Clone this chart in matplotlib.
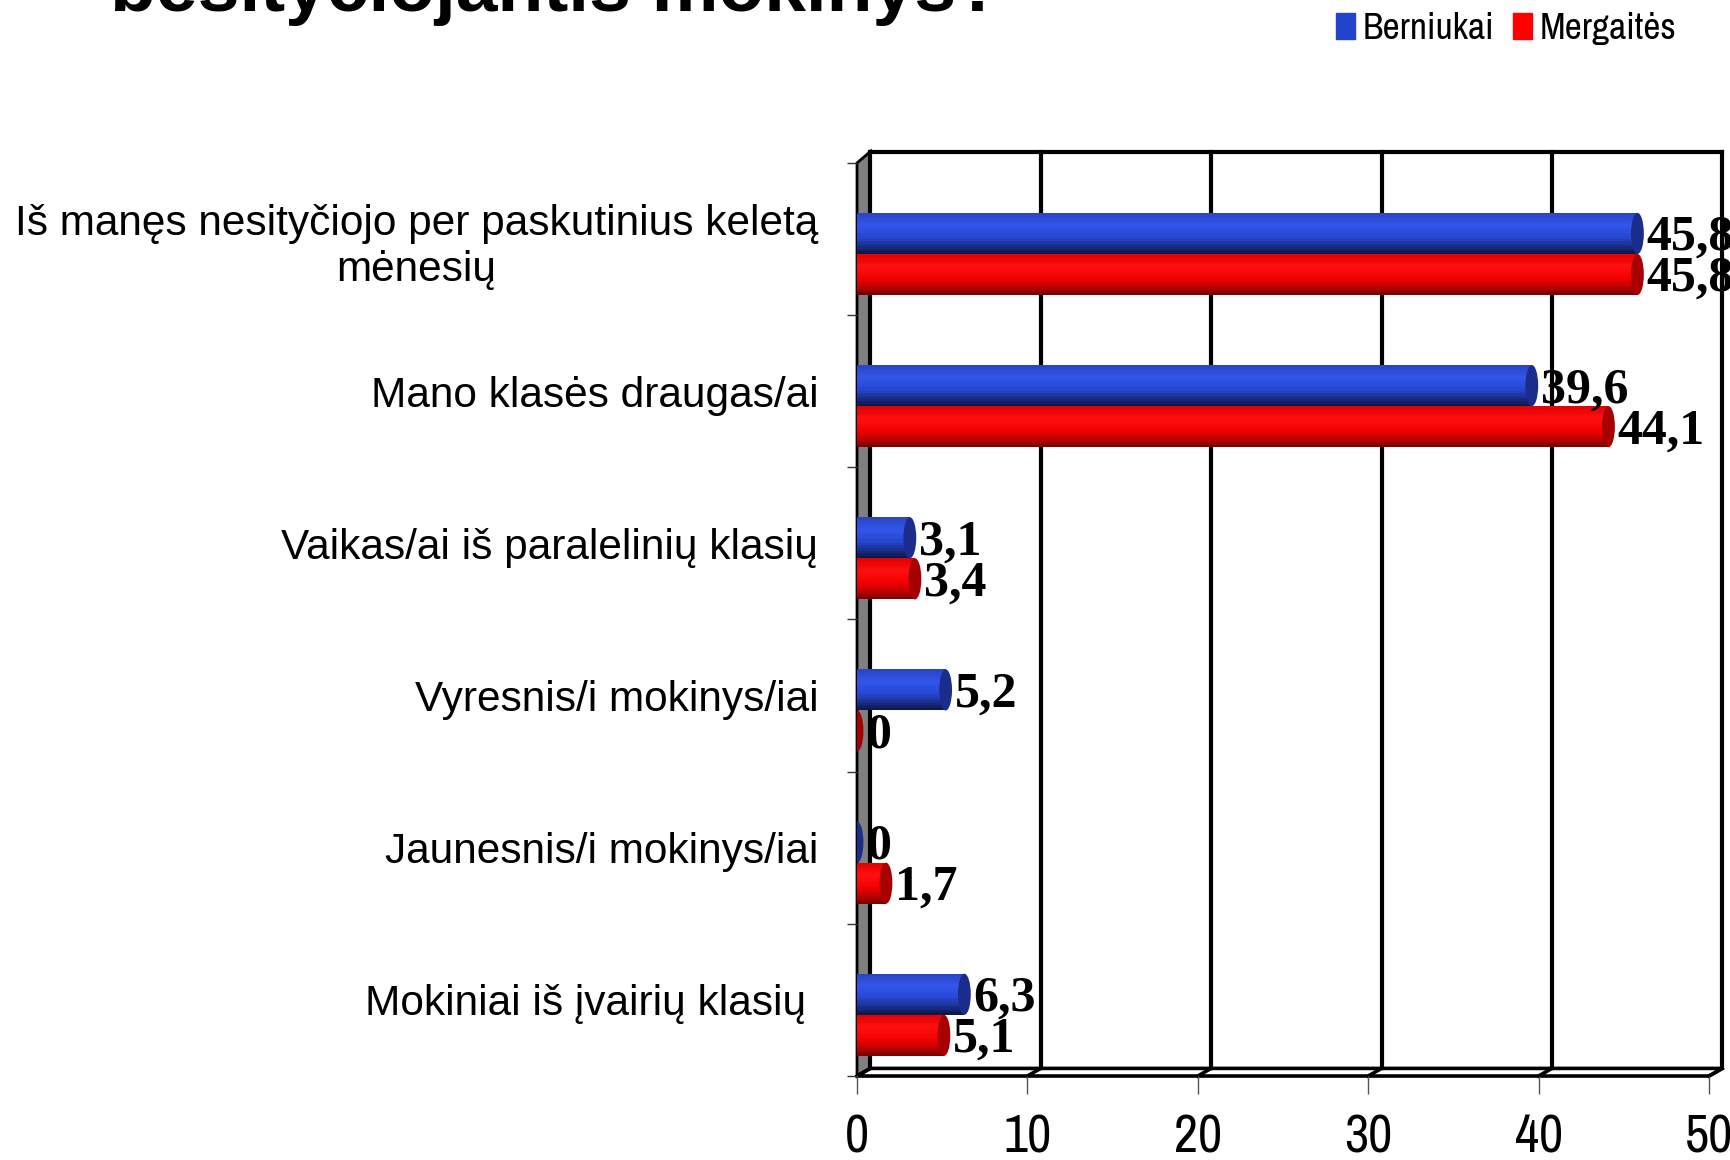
import numpy as np
import matplotlib
matplotlib.use("Agg")
import matplotlib.pyplot as plt
from matplotlib import font_manager
from matplotlib.patches import Ellipse, Rectangle, Polygon
from matplotlib.colors import LinearSegmentedColormap

# duomenys
kategorijos = ["Iš manęs nesityčiojo per paskutinius keletą\nmėnesių",
               "Mano klasės draugas/ai",
               "Vaikas/ai iš paralelinių klasių",
               "Vyresnis/i mokinys/iai",
               "Jaunesnis/i mokinys/iai",
               "Mokiniai iš įvairių klasių "]
berniukai = [45.8, 39.6, 3.1, 5.2, 0, 6.3]
mergaites = [45.8, 44.1, 3.4, 0, 1.7, 5.1]
serijos = ["Berniukai", "Mergaitės"]
x_ticks = [0, 10, 20, 30, 40, 50]

# sriftai - siauras, jei yra
vardai = {f.name for f in font_manager.fontManager.ttflist}
narrow = "Liberation Sans"
for kand in ["Liberation Sans Narrow", "Arial Narrow", "Archivo Narrow", "PT Sans Narrow",
             "Roboto Condensed", "Open Sans Condensed"]:
    if kand in vardai:
        narrow = kand
        break

# cilindru spalvos (is virsaus i apacia)
melyna = LinearSegmentedColormap.from_list("m", [(0, "#2a44c0"), (0.3, "#3156ea"), (0.6, "#2546d0"),
                                                 (0.85, "#17297c"), (1, "#0c1640")])
raudona = LinearSegmentedColormap.from_list("r", [(0, "#e00000"), (0.3, "#ff1010"), (0.6, "#f20000"),
                                                  (0.85, "#b00000"), (1, "#700000")])


def cilindras(ax, y, val, h, cmap, cap):
    n = 16
    kr = np.linspace(y - h / 2, y + h / 2, n + 1)
    for k in range(n):
        ax.barh((kr[k] + kr[k + 1]) / 2, val, height=kr[k + 1] - kr[k],
                color=cmap((k + 0.5) / n), linewidth=0, zorder=3)
    ax.add_patch(Ellipse((val, y), 0.75, h, facecolor=cap, edgecolor="none", zorder=4))


def fmt(v):
    return "0" if v == 0 else f"{v:.1f}".replace(".", ",")


fig = plt.figure(figsize=(17.31, 11.60), dpi=100)
ax = fig.add_axes([0.4951, 0.0724, 0.4922, 0.7871])
ax.set_xlim(0, 50)
ax.set_ylim(6, 0)
for s in ax.spines.values():
    s.set_visible(False)

# 3D sienos
DX, DYT, DYB = 0.78, 0.075, 0.05
ax.add_patch(Polygon([(0, 0), (DX, -DYT), (DX, 6 - DYB), (0, 6)], closed=True,
                     facecolor="#808080", edgecolor="black", lw=2, clip_on=False, zorder=1))
ax.add_patch(Polygon([(0, 6), (50, 6), (50 + DX, 6 - DYB), (DX, 6 - DYB)], closed=True,
                     facecolor="white", edgecolor="black", lw=2.6, clip_on=False, zorder=1))
ax.plot([DX, 50 + DX], [-DYT, -DYT], color="black", lw=3, clip_on=False, zorder=1)
for x in x_ticks:
    ax.plot([x + DX, x + DX], [-DYT, 6 - DYB], color="black", lw=3, clip_on=False, zorder=1)
    ax.plot([x, x + DX], [6, 6 - DYB], color="black", lw=2.6, clip_on=False, zorder=1)

# stulpeliai
yb = np.arange(len(kategorijos)) + 0.463
yr = np.arange(len(kategorijos)) + 0.733
for i in range(len(kategorijos)):
    cilindras(ax, yb[i], berniukai[i], 0.27, melyna, "#1a2d8c")
    cilindras(ax, yr[i], mergaites[i], 0.27, raudona, "#a80000")
    ax.text(berniukai[i] + 0.55, yb[i] + 0.03, fmt(berniukai[i]), ha="left", va="center",
            fontsize=36, weight="bold", family="Liberation Serif", zorder=5, clip_on=False)
    ax.text(mergaites[i] + 0.55, yr[i] + 0.03, fmt(mergaites[i]), ha="left", va="center",
            fontsize=36, weight="bold", family="Liberation Serif", zorder=5, clip_on=False)

# asys
ax.set_xticks(x_ticks)
ax.set_xticklabels([str(t) for t in x_ticks], fontsize=38, family=narrow)
ax.tick_params(axis="x", length=13, width=1, color="#555555", pad=14)
ax.set_yticks(np.arange(len(kategorijos)) + 0.5)
ax.set_yticklabels(kategorijos, fontsize=30.5, family="Liberation Sans")
for lab in ax.get_yticklabels():
    lab.set_multialignment("center")
ax.tick_params(axis="y", which="major", length=0, pad=28)
ax.set_yticks(np.arange(len(kategorijos) + 1), minor=True)
ax.tick_params(axis="y", which="minor", length=7, width=1, color="#333333")

# legenda
h = [Rectangle((0, 0), 1, 1, color="#2244cc"), Rectangle((0, 0), 1, 1, color="#ff0000")]
fig.legend(h, serijos, loc="upper right", bbox_to_anchor=(1676 / 1731, 1 - 12 / 1160), ncol=2,
           frameon=False, prop={"family": narrow, "size": 27}, handlelength=0.5, handleheight=0.7,
           handletextpad=0.2, columnspacing=0.5, borderpad=0, borderaxespad=0)

# pavadinimas (nukirptas virsuje)
fig.text(110 / 1731, 1 - 11 / 1160, "besityčiojantis mokinys?", ha="left", va="baseline",
         fontsize=54, weight="bold", family="Liberation Sans")

fig.savefig("out.png", dpi=100)
